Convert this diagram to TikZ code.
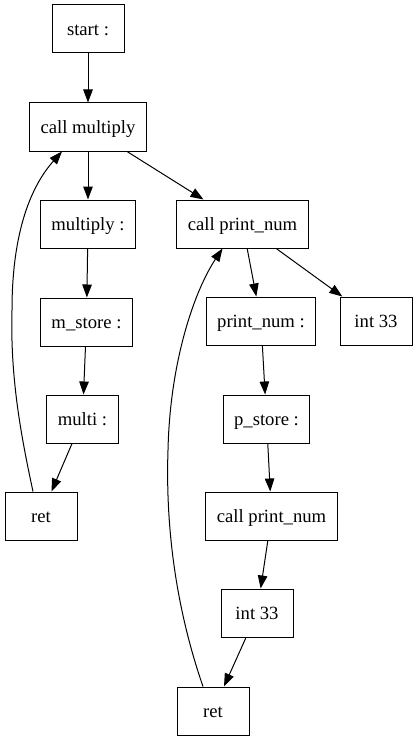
\documentclass[tikz,border=0pt]{standalone}
\usepackage{fontspec}
\setmainfont{Liberation Serif}
\usetikzlibrary{arrows.meta}
\begin{document}
\begin{tikzpicture}[x=1pt,y=-1pt,
  box/.style={draw=black,line width=1pt,rectangle,minimum width=72pt,minimum height=48pt,
    inner xsep=11pt,inner ysep=0pt,text height=17pt,text depth=4pt,
    font=\fontsize{18.67}{22}\selectfont},
  edge/.style={line width=1pt,-{Triangle[length=13pt,width=9.5pt]}}]
\useasboundingbox (0,0) rectangle (417,741);
\node[box] (start) at (88,29) {start :};
\node[box] (cm) at (88,127) {call multiply};
\node[box] (mul) at (88,224) {multiply :};
\node[box] (cpa) at (242.5,224) {call print\_num};
\node[box] (mst) at (86.5,322) {m\_store :};
\node[box] (pn) at (261,321) {print\_num :};
\node[box] (ia) at (376,321) {int 33};
\node[box] (multi) at (82.5,419) {multi :};
\node[box] (pst) at (266.5,419) {p\_store :};
\node[box] (reta) at (41,516) {ret};
\node[box] (cpb) at (271.5,516) {call print\_num};
\node[box] (ib) at (257,613) {int 33};
\node[box] (retb) at (213,711) {ret};

\draw[edge] (start) -- (cm);
\draw[edge] (cm) -- (mul);
\draw[edge] (cm) -- (cpa);
\draw[edge] (mul) -- (mst);
\draw[edge] (mst) -- (multi);
\draw[edge] (multi) -- (reta);
\draw[edge] ([xshift=-8pt]reta.north) .. controls (22,440) and (10,380) .. (12,310)
  .. controls (12,230) and (32,185) .. ([xshift=-26pt]cm.south);
\draw[edge] (cpa) -- (pn);
\draw[edge] (cpa) -- (ia);
\draw[edge] (pn) -- (pst);
\draw[edge] (pst) -- (cpb);
\draw[edge] (cpb) -- (ib);
\draw[edge] (ib) -- (retb);
\draw[edge] ([xshift=-10pt]retb.north) .. controls (180,620) and (165,540) .. (168,450)
  .. controls (170,360) and (195,290) .. ([xshift=-20pt]cpa.south);
\end{tikzpicture}
\end{document}
